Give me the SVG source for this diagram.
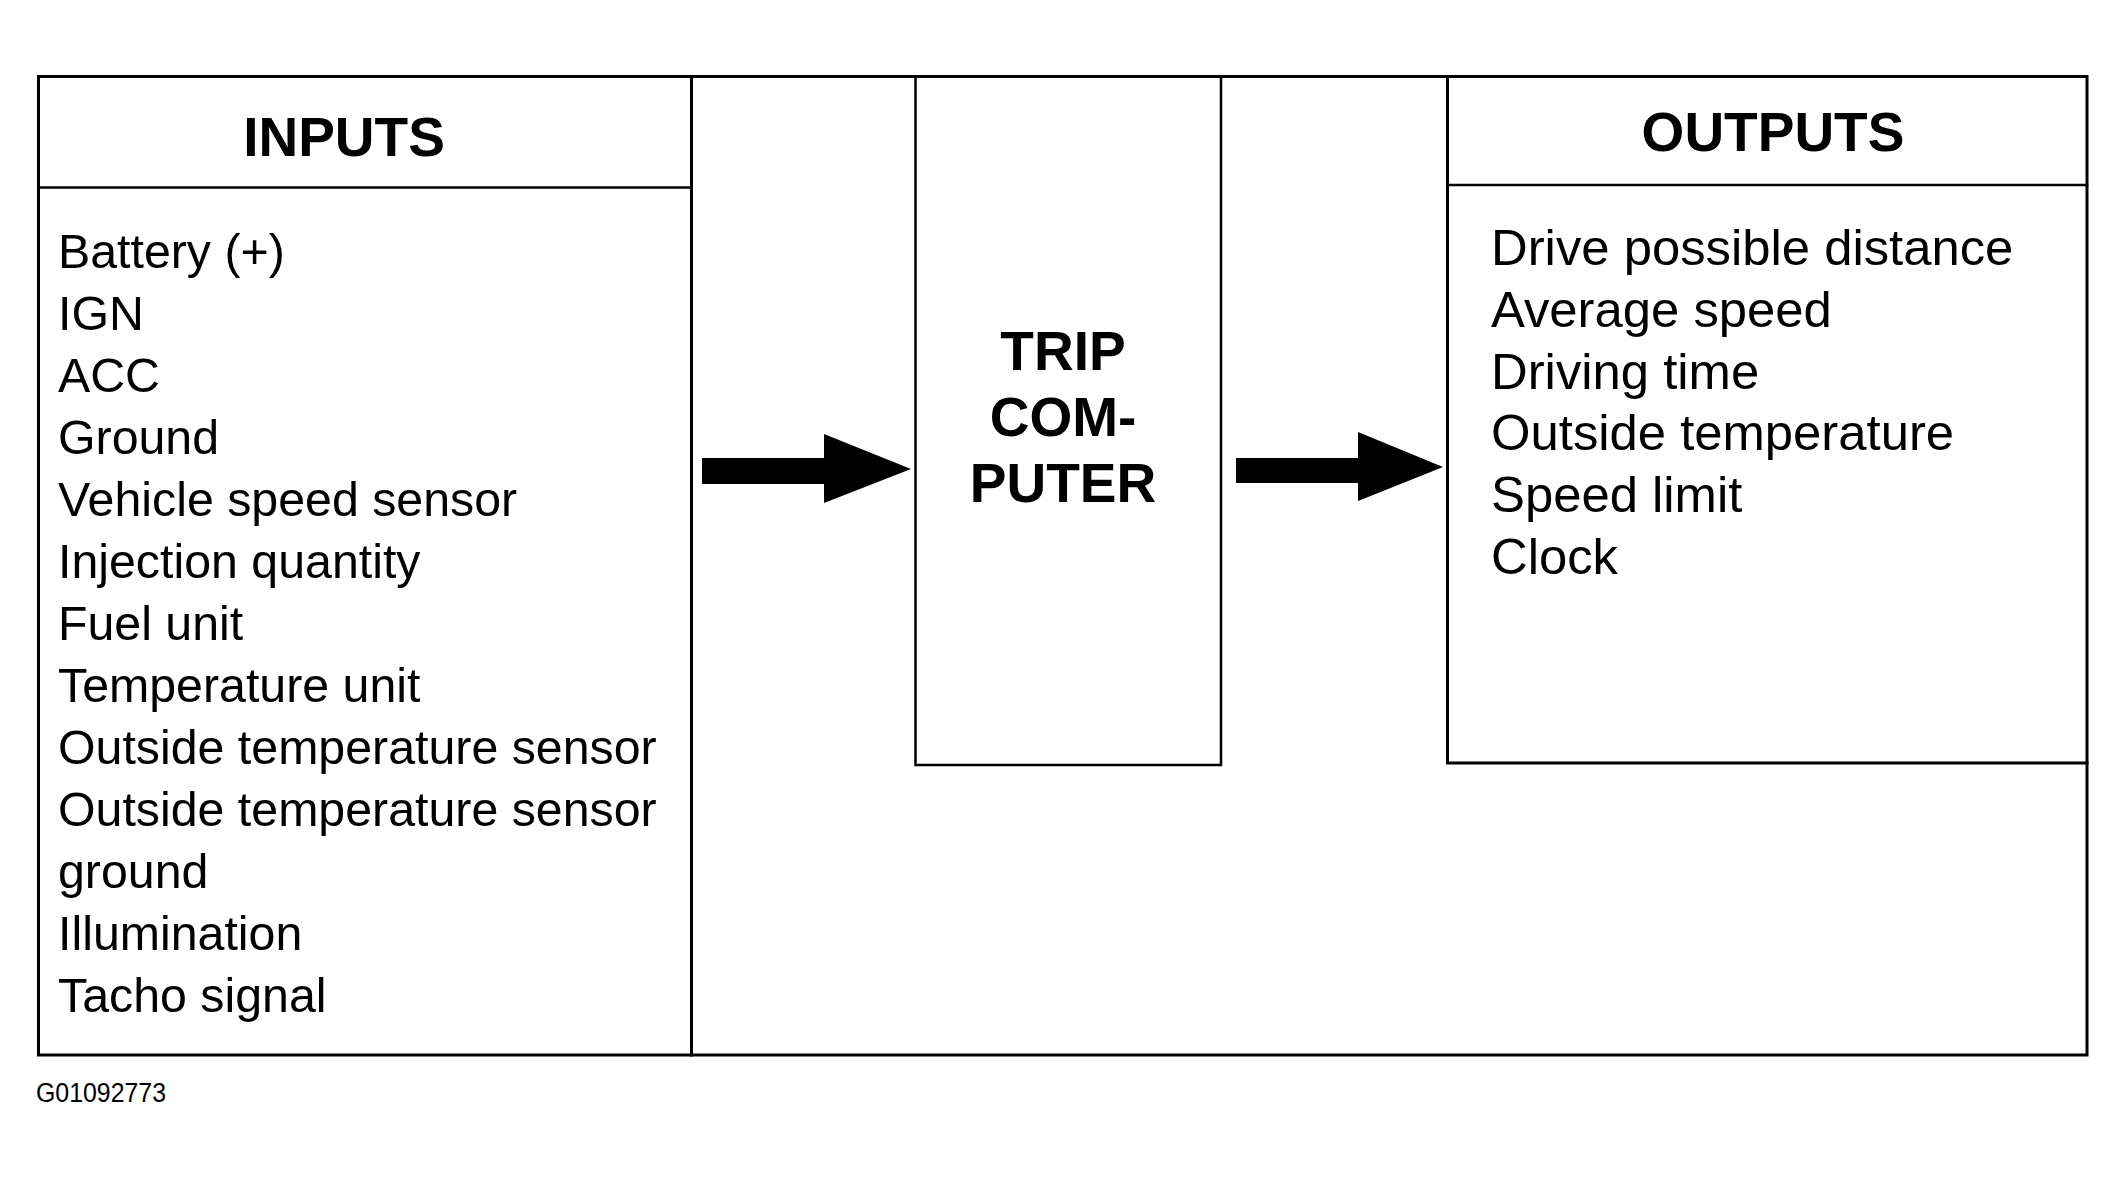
<svg xmlns="http://www.w3.org/2000/svg" width="2126" height="1177" viewBox="0 0 2126 1177">
<style>
.ln{fill:none;stroke:#000;stroke-width:3;stroke-linecap:square}
.thin{fill:none;stroke:#000;stroke-width:2.5;stroke-linecap:square}
.hd{font-family:"Liberation Sans",Arial,sans-serif;font-weight:bold;font-size:55px;fill:#000;text-anchor:middle}
.it{font-family:"Liberation Sans",Arial,sans-serif;font-size:48.3px;fill:#000}
.ot{font-family:"Liberation Sans",Arial,sans-serif;font-size:50.8px;fill:#000}
.arr{fill:#000;stroke:none}
</style>
<rect width="2126" height="1177" fill="#fff"/>
<g id="frame">
<rect class="ln" x="38.5" y="76.5" width="2048.5" height="978.5"/>
</g>
<g id="inputs">
<line class="ln" x1="691.5" y1="76.5" x2="691.5" y2="1055"/>
<line class="thin" x1="38.5" y1="187.5" x2="691.5" y2="187.5"/>
<text class="hd" x="344" y="156">INPUTS</text>
<text class="it" x="58" y="268">Battery (+)</text>
<text class="it" x="58" y="330">IGN</text>
<text class="it" x="58" y="392">ACC</text>
<text class="it" x="58" y="454">Ground</text>
<text class="it" x="58" y="516">Vehicle speed sensor</text>
<text class="it" x="58" y="578">Injection quantity</text>
<text class="it" x="58" y="640">Fuel unit</text>
<text class="it" x="58" y="702">Temperature unit</text>
<text class="it" x="58" y="764">Outside temperature sensor</text>
<text class="it" x="58" y="826">Outside temperature sensor</text>
<text class="it" x="58" y="888">ground</text>
<text class="it" x="58" y="950">Illumination</text>
<text class="it" x="58" y="1012">Tacho signal</text>
</g>
<g id="trip-computer">
<polyline class="thin" points="915.5,76.5 915.5,765 1221,765 1221,76.5"/>
<text class="hd" x="1063" y="370">TRIP</text>
<text class="hd" x="1063" y="436">COM-</text>
<text class="hd" x="1063" y="502">PUTER</text>
</g>
<g id="outputs">
<polyline class="ln" points="1447.5,76.5 1447.5,763 2087,763"/>
<line class="thin" x1="1447.5" y1="185" x2="2087" y2="185"/>
<text class="hd" x="1773" y="151">OUTPUTS</text>
<text class="ot" x="1491" y="265">Drive possible distance</text>
<text class="ot" x="1491" y="327">Average speed</text>
<text class="ot" x="1491" y="389">Driving time</text>
<text class="ot" x="1491" y="450">Outside temperature</text>
<text class="ot" x="1491" y="512">Speed limit</text>
<text class="ot" x="1491" y="574">Clock</text>
</g>
<g id="connectors">
<polygon class="arr" points="702,458 824,458 824,434 911,469 824,503 824,484 702,484"/>
<polygon class="arr" points="1236,458 1358,458 1358,432 1443,467 1358,501 1358,483 1236,483"/>
</g>
<g id="footer">
<text x="36" y="1102" font-family="Liberation Sans, Arial, sans-serif" font-size="27" textLength="130" lengthAdjust="spacingAndGlyphs">G01092773</text>
</g>
</svg>
